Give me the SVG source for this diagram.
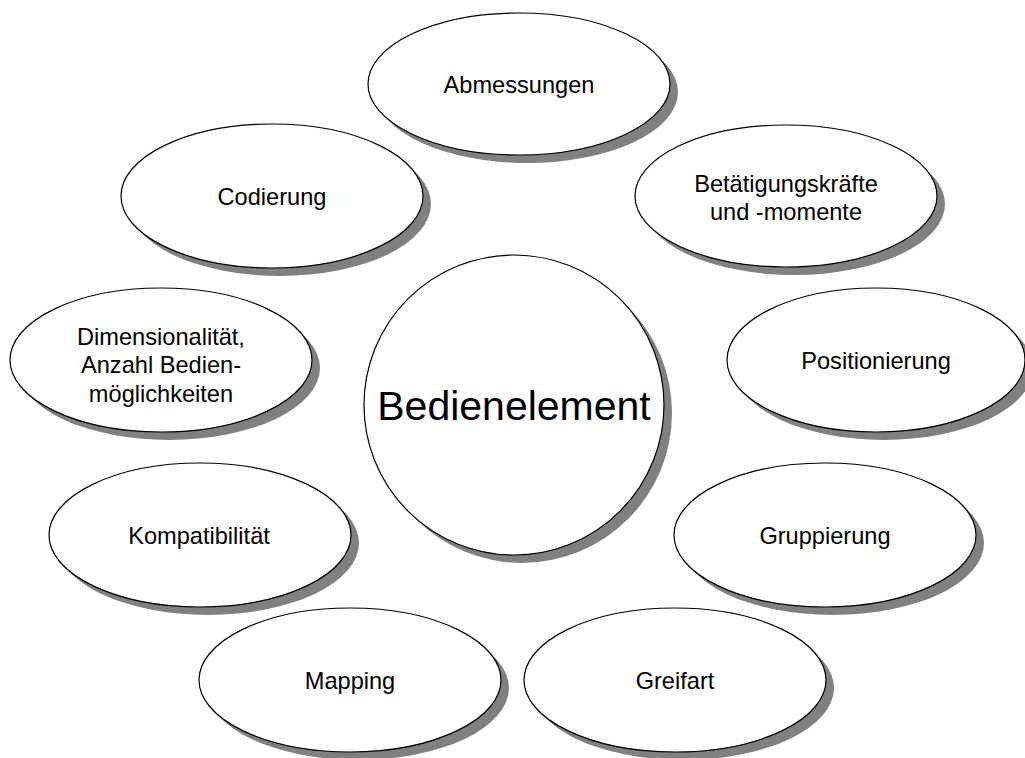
<svg xmlns="http://www.w3.org/2000/svg" width="1025" height="758" viewBox="0 0 1025 758">
  <style>
    .shadow { fill: #808080; stroke: none; }
    .shape { fill: #ffffff; stroke: #000000; stroke-width: 1.2; }
    .label { font-family: "Liberation Sans", Arial, sans-serif; font-size: 23.6px; fill: #000000; text-anchor: middle; }
    .title { font-family: "Liberation Sans", Arial, sans-serif; font-size: 41px; fill: #000000; text-anchor: middle; }
  </style>
  <rect width="1025" height="758" fill="#ffffff"/>

  <!-- no connectors: nodes are arranged around the centre -->
  <g id="connectors"/>

  <g id="node-abmessungen">
    <ellipse class="shadow" cx="527" cy="92" rx="151" ry="71"/>
    <ellipse class="shape" cx="519" cy="84" rx="151" ry="71"/>
    <text class="label" x="519" y="93">Abmessungen</text>
  </g>

  <g id="node-codierung">
    <ellipse class="shadow" cx="280" cy="204" rx="151" ry="72"/>
    <ellipse class="shape" cx="272" cy="196" rx="151" ry="72"/>
    <text class="label" x="272" y="205">Codierung</text>
  </g>

  <g id="node-betaetigungskraefte">
    <ellipse class="shadow" cx="794" cy="204" rx="151" ry="71"/>
    <ellipse class="shape" cx="786" cy="196" rx="151" ry="71"/>
    <text class="label" x="786" y="192">Betätigungskräfte</text>
    <text class="label" x="786" y="220">und -momente</text>
  </g>

  <g id="node-dimensionalitaet">
    <ellipse class="shadow" cx="169" cy="368" rx="151" ry="72"/>
    <ellipse class="shape" cx="161" cy="360" rx="151" ry="72"/>
    <text class="label" x="161" y="345">Dimensionalität,</text>
    <text class="label" x="161" y="373">Anzahl Bedien-</text>
    <text class="label" x="161" y="402">möglichkeiten</text>
  </g>

  <g id="node-bedienelement">
    <circle class="shadow" cx="522" cy="413" r="150"/>
    <circle class="shape" cx="514" cy="405" r="150"/>
    <text class="title" x="514" y="420">Bedienelement</text>
  </g>

  <g id="node-positionierung">
    <ellipse class="shadow" cx="884" cy="368" rx="149" ry="72"/>
    <ellipse class="shape" cx="876" cy="360" rx="149" ry="72"/>
    <text class="label" x="876" y="369">Positionierung</text>
  </g>

  <g id="node-kompatibilitaet">
    <ellipse class="shadow" cx="208" cy="543" rx="151" ry="72"/>
    <ellipse class="shape" cx="200" cy="535" rx="151" ry="72"/>
    <text class="label" x="199" y="544">Kompatibilität</text>
  </g>

  <g id="node-gruppierung">
    <ellipse class="shadow" cx="833" cy="543" rx="151" ry="72"/>
    <ellipse class="shape" cx="825" cy="535" rx="151" ry="72"/>
    <text class="label" x="825" y="544">Gruppierung</text>
  </g>

  <g id="node-mapping">
    <ellipse class="shadow" cx="358" cy="688" rx="151" ry="72"/>
    <ellipse class="shape" cx="350" cy="680" rx="151" ry="72"/>
    <text class="label" x="350" y="689">Mapping</text>
  </g>

  <g id="node-greifart">
    <ellipse class="shadow" cx="683" cy="688" rx="151" ry="72"/>
    <ellipse class="shape" cx="675" cy="680" rx="151" ry="72"/>
    <text class="label" x="675" y="689">Greifart</text>
  </g>
</svg>
